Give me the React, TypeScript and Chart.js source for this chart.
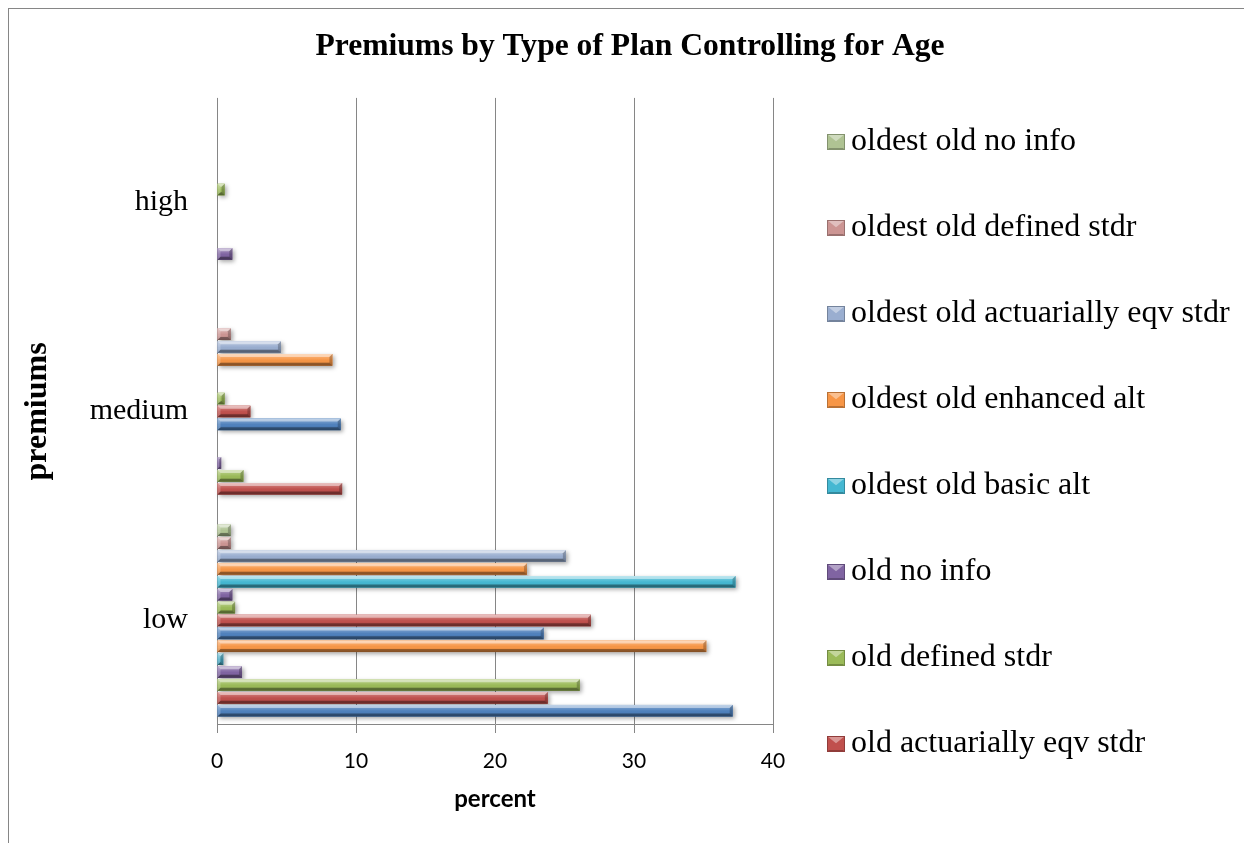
import React, { useEffect, useRef } from 'react';
import { Chart, registerables } from 'chart.js';

Chart.register(...registerables);

// ---------- data ----------
const categories = ['high', 'medium', 'low'];

const seriesNames = [
  'young old basic alt',
  'young old enhanced alt',
  'young old actuarially eqv stdr',
  'young old defined stdr',
  'young old no info',
  'old basic alt',
  'old enhanced alt',
  'old actuarially eqv stdr',
  'old defined stdr',
  'old no info',
  'oldest old basic alt',
  'oldest old enhanced alt',
  'oldest old actuarially eqv stdr',
  'oldest old defined stdr',
  'oldest old no info',
];

// values in category order: high, medium, low
const youngBasic = [null, null, 37.1];
const youngEnhanced = [null, 9.0, 23.8];
const youngActuarial = [null, 1.9, 26.1];
const youngDefined = [1.1, 0.3, 1.8];
const youngNoInfo = [null, null, 0.45];
const oldBasic = [null, null, 35.2];
const oldEnhanced = [null, 8.9, 23.5];
const oldActuarial = [null, 2.4, 26.9];
const oldDefined = [0.55, 0.55, 1.3];
const oldNoInfo = [null, null, 1.1];
const oldestBasic = [null, null, 37.3];
const oldestEnhanced = [null, 8.3, 22.3];
const oldestActuarial = [null, 4.6, 25.1];
const oldestDefined = [null, 1.0, 1.0];
const oldestNoInfo = [null, null, 1.0];

const seriesValues = [
  youngBasic, youngEnhanced, youngActuarial, youngDefined, youngNoInfo,
  oldBasic, oldEnhanced, oldActuarial, oldDefined, oldNoInfo,
  oldestBasic, oldestEnhanced, oldestActuarial, oldestDefined, oldestNoInfo,
];

const seriesColors = [
  '#4F81BD', '#C0504D', '#9BBB59', '#8064A2', '#4BACC6',
  '#F79646', '#4F81BD', '#C0504D', '#9BBB59', '#8064A2',
  '#45B8D2', '#F79646', '#9AAED0', '#CC9593', '#AFC393',
];

const xTicks = [0, 10, 20, 30, 40];
const LEGEND_COUNT = 8; // only the last 8 series are listed in the legend

// ---------- styling ----------
const SERIF = "'Liberation Serif', 'Times New Roman', serif";
const SANS = "Lato, 'Open Sans', sans-serif";
const W = 1241;
const H = 840;
const LEGEND_FONT = 32;
const LEGEND_PAD = 54;
const LEGEND_SLOT_W = 8; // space Chart.js reserves before the text
const SWATCH_W = 18;
const SWATCH_H = 16;
const PLOT_LEFT = 208;
const PLOT_RIGHT = 764;
const TITLE_CENTER = 621;

function shade(hex: string, f: number): string {
  const n = parseInt(hex.slice(1), 16);
  let r = (n >> 16) & 255, g = (n >> 8) & 255, b = n & 255;
  if (f < 0) {
    r = Math.round(r * (1 + f)); g = Math.round(g * (1 + f)); b = Math.round(b * (1 + f));
  } else {
    r = Math.round(r + (255 - r) * f); g = Math.round(g + (255 - g) * f); b = Math.round(b + (255 - b) * f);
  }
  return `rgb(${r},${g},${b})`;
}

function measure(text: string, font: string): number {
  const c = document.createElement('canvas').getContext('2d')!;
  c.font = font;
  return c.measureText(text).width;
}

const bevelPlugin = {
  id: 'bevel',
  beforeDatasetsDraw(chart: any) {
    const ctx = chart.ctx;
    ctx.save();
    chart.data.datasets.forEach((ds: any, di: number) => {
      const meta = chart.getDatasetMeta(di);
      meta.data.forEach((el: any, i: number) => {
        const v = ds.data[i];
        if (v == null || v === 0) return;
        const { x, y, base, height } = el.getProps(['x', 'y', 'base', 'height'], true);
        const l = Math.min(x, base), r = Math.max(x, base), t = y - height / 2;
        ctx.shadowColor = 'rgba(0,0,0,0.35)';
        ctx.shadowBlur = 4;
        ctx.shadowOffsetX = 2;
        ctx.shadowOffsetY = 2;
        ctx.fillStyle = ds.backgroundColor;
        ctx.fillRect(l, t, r - l, height);
      });
    });
    ctx.restore();
  },
  afterDatasetsDraw(chart: any) {
    const ctx = chart.ctx;
    ctx.save();
    chart.data.datasets.forEach((ds: any, di: number) => {
      const meta = chart.getDatasetMeta(di);
      meta.data.forEach((el: any, i: number) => {
        const v = ds.data[i];
        if (v == null || v === 0) return;
        const { x, y, base, height } = el.getProps(['x', 'y', 'base', 'height'], true);
        const l = Math.min(x, base), r = Math.max(x, base);
        const t = y - height / 2, btm = y + height / 2;
        const w = r - l;
        const b = Math.max(1, Math.min(3, w / 2, height / 3));
        const g = ctx.createLinearGradient(0, t, 0, btm);
        g.addColorStop(0, 'rgba(255,255,255,0.35)');
        g.addColorStop(0.45, 'rgba(255,255,255,0.05)');
        g.addColorStop(0.6, 'rgba(0,0,0,0)');
        g.addColorStop(1, 'rgba(0,0,0,0.18)');
        ctx.fillStyle = g;
        ctx.fillRect(l, t, w, height);
        ctx.beginPath();
        ctx.moveTo(l, t); ctx.lineTo(r, t); ctx.lineTo(r - b, t + b); ctx.lineTo(l + b, t + b); ctx.closePath();
        ctx.fillStyle = 'rgba(255,255,255,0.45)';
        ctx.fill();
        ctx.beginPath();
        ctx.moveTo(l, btm); ctx.lineTo(r, btm); ctx.lineTo(r - b, btm - b); ctx.lineTo(l + b, btm - b); ctx.closePath();
        ctx.fillStyle = 'rgba(0,0,0,0.35)';
        ctx.fill();
        ctx.beginPath();
        ctx.moveTo(r, t); ctx.lineTo(r, btm); ctx.lineTo(r - b, btm - b); ctx.lineTo(r - b, t + b); ctx.closePath();
        ctx.fillStyle = 'rgba(0,0,0,0.22)';
        ctx.fill();
        ctx.beginPath();
        ctx.moveTo(l, t); ctx.lineTo(l + b, t + b); ctx.lineTo(l + b, btm - b); ctx.lineTo(l, btm); ctx.closePath();
        ctx.fillStyle = 'rgba(255,255,255,0.2)';
        ctx.fill();
      });
    });
    ctx.restore();
  },
  afterDraw(chart: any) {
    const legend = chart.legend;
    if (!legend || !legend.legendHitBoxes || !legend.legendItems) return;
    const ctx = chart.ctx;
    ctx.save();
    legend.legendHitBoxes.forEach((hb: any, i: number) => {
      const item = legend.legendItems[i];
      if (!item) return;
      const color = chart.data.datasets[item.datasetIndex].backgroundColor;
      const l = hb.left, t = hb.top + Math.max((LEGEND_FONT - SWATCH_H) / 2, 0);
      const r = l + SWATCH_W, btm = t + SWATCH_H;
      const cx = l + SWATCH_W / 2;
      ctx.fillStyle = color;
      ctx.fillRect(l, t, SWATCH_W, SWATCH_H);
      ctx.beginPath();
      ctx.moveTo(l, t); ctx.lineTo(r, t); ctx.lineTo(cx, t + SWATCH_H * 0.45); ctx.closePath();
      ctx.fillStyle = 'rgba(255,255,255,0.4)';
      ctx.fill();
      ctx.beginPath();
      ctx.moveTo(l, btm); ctx.lineTo(r, btm); ctx.lineTo(r - 2, btm - 2); ctx.lineTo(l + 2, btm - 2); ctx.closePath();
      ctx.fillStyle = 'rgba(0,0,0,0.25)';
      ctx.fill();
      ctx.strokeStyle = shade(color, -0.25);
      ctx.lineWidth = 1;
      ctx.strokeRect(l + 0.5, t + 0.5, SWATCH_W - 1, SWATCH_H - 1);
    });
    ctx.restore();
  },
};

export default function App() {
  const ref = useRef<HTMLCanvasElement>(null);

  useEffect(() => {
    document.documentElement.style.overflow = 'hidden';
    document.body.style.overflow = 'hidden';
    const canvas = ref.current;
    if (!canvas) return;

    // datasets are listed in reverse so that series 1 sits at the bottom of each group
    const order = seriesNames.map((_, i) => seriesNames.length - 1 - i);
    const datasets = order.map((si) => ({
      label: seriesNames[si],
      data: seriesValues[si],
      backgroundColor: seriesColors[si],
      borderColor: shade(seriesColors[si], -0.3),
      borderWidth: 0,
      categoryPercentage: 0.925,
      barPercentage: 0.9,
    }));

    const legendFont = `${LEGEND_FONT}px ${SERIF}`;
    const tw = Math.max(...datasets.slice(0, LEGEND_COUNT).map((d) => measure(d.label, legendFont)));
    const legendW = LEGEND_PAD + LEGEND_SLOT_W + LEGEND_FONT / 2 + tw + 10;
    const padRight = Math.max(0, W - PLOT_RIGHT - legendW);
    // left padding chosen so the full-width title is centred where the reference has it
    const padLeft = Math.max(0, Math.min(40, 2 * TITLE_CENTER - (W - padRight)));
    const yTitleCenter = 29;

    const chart = new Chart(canvas, {
      type: 'bar',
      data: { labels: categories, datasets },
      plugins: [bevelPlugin],
      options: {
        indexAxis: 'y',
        responsive: false,
        animation: false,
        layout: { padding: { top: 10, left: padLeft, right: padRight, bottom: 35 } },
        plugins: {
          tooltip: { enabled: false },
          title: {
            display: true,
            text: 'Premiums by Type of Plan Controlling for Age',
            color: '#000',
            font: { family: SERIF, size: 31.6, weight: 'bold', lineHeight: 1.2 },
            padding: { top: 9, bottom: 32 },
          },
          legend: {
            display: true,
            position: 'right',
            align: 'end',
            maxWidth: Math.ceil(legendW) + 4,
            labels: {
              color: '#000',
              font: { family: SERIF, size: LEGEND_FONT },
              boxWidth: LEGEND_SLOT_W,
              boxHeight: SWATCH_H,
              padding: LEGEND_PAD,
              filter: (item: any) => item.datasetIndex < LEGEND_COUNT,
              generateLabels: (ch: any) => {
                const items = Chart.defaults.plugins.legend.labels.generateLabels(ch);
                return items.map((it: any) => ({
                  ...it,
                  fillStyle: 'rgba(0,0,0,0)',
                  strokeStyle: 'rgba(0,0,0,0)',
                  lineWidth: 0,
                }));
              },
            },
          },
        },
        scales: {
          x: {
            type: 'linear',
            position: 'bottom',
            min: xTicks[0],
            max: xTicks[xTicks.length - 1],
            afterBuildTicks: (s: any) => { s.ticks = xTicks.map((v) => ({ value: v })); },
            ticks: { color: '#000', font: { family: SANS, size: 21 }, padding: 16 },
            grid: { color: '#868686', lineWidth: 1, drawTicks: true, tickLength: 8, drawOnChartArea: true },
            border: { display: true, color: '#868686', width: 1 },
            title: {
              display: true,
              text: 'percent',
              color: '#000',
              font: { family: SANS, size: 24, weight: 'bold', lineHeight: 1.2 },
              padding: { top: 0, bottom: 0 },
            },
            afterFit: (s: any) => { s.height = 89; },
          },
          y: {
            type: 'category',
            position: 'left',
            offset: true,
            ticks: { color: '#000', font: { family: SERIF, size: 30 }, padding: 29 },
            grid: { display: false, drawTicks: false, tickLength: 0 },
            border: { display: false },
            title: {
              display: true,
              text: 'premiums',
              color: '#000',
              font: {
                family: SERIF, size: 32, weight: 'bold',
                lineHeight: `${Math.max(2, 2 * (yTitleCenter - padLeft))}px`,
              },
              padding: { top: 0, bottom: 0 },
            },
            afterFit: (s: any) => { s.width = PLOT_LEFT - padLeft; },
          },
        },
      } as any,
    });

    return () => chart.destroy();
  }, []);

  return (
    <div style={{ width: W, height: H, border: '1px solid #868686', background: '#fff' }}>
      <canvas ref={ref} width={W} height={H} style={{ display: 'block', width: W, height: H }} />
    </div>
  );
}
